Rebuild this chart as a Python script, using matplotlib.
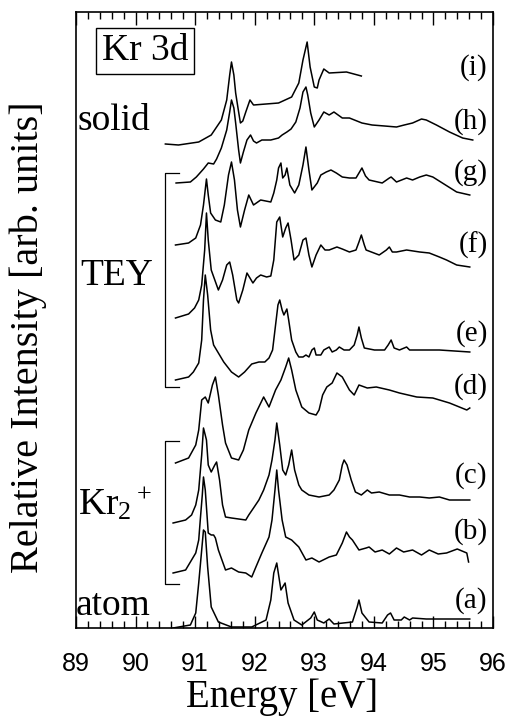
import matplotlib
matplotlib.use("Agg")
import matplotlib.pyplot as plt
from matplotlib.ticker import MultipleLocator

plt.rcParams['font.family'] = ['Liberation Serif', 'DejaVu Serif']
plt.rcParams['mathtext.fontset'] = 'custom'
plt.rcParams['mathtext.rm'] = 'Liberation Serif'
plt.rcParams['mathtext.it'] = 'Liberation Serif:italic'

# ---- spectra (energy in eV, stacked intensity in arb. units) ----
energy_a = [90.63, 90.92, 91.01, 91.06, 91.11, 91.14, 91.17, 91.21, 91.27, 91.39, 91.61, 91.95,
            92.19, 92.27, 92.32, 92.37, 92.44, 92.51, 92.56, 92.66, 92.79, 92.94, 93.00, 93.05,
            93.16, 93.25, 93.33, 93.64, 93.72, 93.75, 93.80, 93.92, 94.14, 94.23, 94.28, 94.34,
            94.46, 94.51, 94.60, 94.65, 94.88, 95.27, 95.61]
inten_a = [0, 3, 15, 45, 78, 98, 96, 61, 21, 6, 1, 1,
           8, 28, 55, 65, 38, 45, 25, 8, 3, 10, 16, 8,
           5, 9, 4, 6, 21, 28, 15, 6, 5, 13, 15, 8,
           8, 11, 8, 10, 9, 9, 9]

energy_b = [90.63, 90.84, 90.92, 91.01, 91.06, 91.09, 91.12, 91.14, 91.17, 91.22, 91.27, 91.31,
            91.34, 91.39, 91.51, 91.61, 91.73, 91.85, 91.95, 92.02, 92.12, 92.24, 92.29, 92.34,
            92.37, 92.40, 92.46, 92.52, 92.62, 92.74, 92.86, 92.96, 93.08, 93.25, 93.37, 93.47,
            93.54, 93.59, 93.64, 93.75, 93.87, 93.92, 94.02, 94.14, 94.26, 94.38, 94.50, 94.65,
            94.80, 94.93, 95.08, 95.22, 95.40, 95.56, 95.59]
inten_b = [55, 58, 66, 75, 88, 111, 133, 151, 138, 95, 93, 93,
           90, 78, 58, 60, 56, 55, 51, 61, 75, 91, 108, 138,
           158, 138, 108, 91, 88, 81, 68, 70, 66, 71, 73, 85,
           96, 91, 88, 78, 80, 81, 76, 78, 74, 80, 76, 78,
           73, 78, 74, 75, 79, 75, 66]

energy_c = [90.63, 90.84, 90.94, 91.01, 91.06, 91.11, 91.14, 91.19, 91.22, 91.27, 91.33, 91.36,
            91.41, 91.46, 91.51, 91.61, 91.73, 91.85, 91.90, 91.98, 92.07, 92.15, 92.24, 92.29,
            92.34, 92.37, 92.42, 92.47, 92.52, 92.57, 92.62, 92.67, 92.74, 92.79, 92.91, 93.08,
            93.25, 93.33, 93.42, 93.47, 93.50, 93.55, 93.62, 93.69, 93.79, 93.89, 93.96, 94.09,
            94.26, 94.43, 94.60, 94.77, 94.93, 95.10, 95.27, 95.44, 95.61]
inten_c = [105, 108, 113, 123, 138, 173, 200, 188, 163, 156, 163, 166,
           148, 123, 111, 110, 109, 108, 113, 120, 128, 138, 153, 168,
           188, 205, 183, 158, 153, 163, 178, 158, 143, 138, 133, 131,
           133, 138, 148, 163, 168, 163, 148, 136, 133, 138, 135, 136,
           133, 133, 131, 131, 130, 131, 128, 128, 128]

energy_d = [90.67, 90.89, 91.01, 91.06, 91.11, 91.17, 91.22, 91.29, 91.34, 91.39, 91.46, 91.51,
            91.61, 91.73, 91.81, 91.90, 92.02, 92.15, 92.24, 92.35, 92.44, 92.52, 92.57, 92.62,
            92.69, 92.79, 92.91, 93.03, 93.08, 93.14, 93.21, 93.30, 93.38, 93.47, 93.59, 93.67,
            93.75, 93.89, 94.04, 94.26, 94.43, 94.72, 94.99, 95.27, 95.56, 95.61]
inten_d = [165, 170, 183, 198, 228, 231, 225, 243, 251, 233, 203, 185,
           170, 168, 178, 198, 215, 231, 221, 238, 248, 261, 270, 258,
           238, 221, 215, 213, 218, 233, 241, 245, 255, 251, 238, 233,
           243, 240, 241, 238, 235, 231, 230, 225, 218, 220]

energy_e = [90.67, 90.89, 90.97, 91.06, 91.11, 91.14, 91.17, 91.21, 91.26, 91.31, 91.39, 91.48,
            91.61, 91.73, 91.83, 91.95, 92.07, 92.17, 92.24, 92.30, 92.35, 92.39, 92.42, 92.46,
            92.49, 92.54, 92.57, 92.62, 92.69, 92.74, 92.81, 92.86, 92.91, 92.96, 93.00, 93.03,
            93.11, 93.16, 93.25, 93.30, 93.37, 93.42, 93.50, 93.59, 93.67, 93.72, 93.75, 93.79,
            93.84, 94.01, 94.18, 94.24, 94.29, 94.34, 94.43, 94.51, 94.55, 94.60, 94.77, 95.10,
            95.61]
inten_e = [248, 251, 256, 265, 288, 328, 353, 333, 298, 283, 275, 266,
           256, 251, 256, 264, 266, 266, 270, 278, 303, 323, 328, 318,
           313, 319, 308, 288, 276, 271, 271, 273, 271, 278, 280, 273,
           273, 278, 281, 276, 278, 281, 278, 278, 283, 293, 301, 290,
           280, 278, 278, 283, 288, 280, 278, 280, 281, 278, 278, 278,
           276]

energy_f = [90.67, 90.89, 90.99, 91.06, 91.11, 91.16, 91.19, 91.22, 91.27, 91.33, 91.39, 91.46,
            91.53, 91.58, 91.63, 91.70, 91.73, 91.80, 91.87, 91.92, 91.97, 92.03, 92.10, 92.20,
            92.27, 92.32, 92.37, 92.42, 92.47, 92.52, 92.56, 92.61, 92.66, 92.74, 92.81, 92.86,
            92.91, 92.96, 93.03, 93.11, 93.18, 93.25, 93.38, 93.47, 93.59, 93.70, 93.75, 93.79,
            93.84, 93.87, 94.09, 94.21, 94.26, 94.31, 94.38, 94.55, 94.77, 94.93, 95.10, 95.22,
            95.39, 95.61]
inten_f = [310, 314, 320, 328, 343, 378, 415, 388, 358, 348, 338, 348,
           363, 366, 353, 328, 325, 338, 355, 350, 345, 350, 353, 351,
           352, 368, 406, 411, 391, 400, 405, 388, 368, 373, 388, 390,
           373, 361, 373, 383, 378, 378, 381, 379, 376, 378, 386, 393,
           383, 378, 373, 378, 381, 376, 376, 378, 376, 375, 371, 368,
           363, 361]

energy_g = [90.67, 90.89, 91.01, 91.09, 91.14, 91.19, 91.22, 91.26, 91.34, 91.43, 91.49, 91.56,
            91.61, 91.66, 91.71, 91.76, 91.83, 91.90, 91.98, 92.10, 92.27, 92.32, 92.37, 92.40,
            92.44, 92.47, 92.51, 92.54, 92.59, 92.67, 92.74, 92.81, 92.86, 92.91, 92.96, 93.05,
            93.11, 93.20, 93.28, 93.37, 93.47, 93.59, 93.70, 93.75, 93.80, 93.86, 93.92, 94.14,
            94.26, 94.29, 94.38, 94.55, 94.65, 94.77, 94.88, 94.99, 95.15, 95.39, 95.61]
inten_g = [383, 385, 390, 403, 423, 449, 433, 415, 408, 406, 423, 453,
           466, 448, 418, 401, 418, 433, 423, 428, 426, 435, 448, 460,
           465, 450, 453, 460, 443, 435, 443, 463, 481, 458, 438, 445,
           453, 456, 458, 455, 451, 450, 450, 455, 460, 452, 448, 445,
           450, 451, 446, 450, 448, 451, 453, 451, 445, 436, 433]

energy_h = [90.68, 90.92, 91.02, 91.14, 91.22, 91.31, 91.36, 91.44, 91.53, 91.58, 91.61, 91.65,
            91.68, 91.73, 91.76, 91.81, 91.87, 91.93, 91.98, 92.03, 92.12, 92.27, 92.40, 92.46,
            92.54, 92.61, 92.69, 92.76, 92.81, 92.86, 92.89, 92.94, 93.00, 93.08, 93.16, 93.25,
            93.33, 93.47, 93.59, 93.80, 93.97, 94.18, 94.38, 94.51, 94.65, 94.80, 94.88, 95.05,
            95.27, 95.49, 95.66]
inten_h = [445, 446, 451, 459, 465, 464, 469, 480, 498, 516, 528, 520,
           505, 478, 465, 476, 488, 493, 487, 485, 488, 488, 490, 493,
           496, 499, 506, 520, 536, 541, 533, 515, 501, 508, 516, 513,
           516, 510, 510, 505, 503, 502, 501, 503, 505, 509, 508, 503,
           496, 490, 488]

energy_i = [90.50, 90.72, 91.06, 91.27, 91.44, 91.53, 91.58, 91.61, 91.65, 91.68, 91.73, 91.76,
            91.80, 91.85, 91.92, 91.98, 92.40, 92.62, 92.74, 92.81, 92.88, 92.93, 93.00, 93.05,
            93.08, 93.16, 93.25, 93.54, 93.79]
inten_i = [484, 483, 486, 493, 508, 528, 553, 566, 553, 535, 516, 505,
           507, 516, 528, 523, 525, 531, 545, 568, 586, 561, 541, 540,
           548, 559, 555, 556, 552]

curve_labels = ['(a)', '(b)', '(c)', '(d)', '(e)', '(f)', '(g)', '(h)', '(i)']
energies = [energy_a, energy_b, energy_c, energy_d, energy_e, energy_f, energy_g, energy_h, energy_i]
intensities = [inten_a, inten_b, inten_c, inten_d, inten_e, inten_f, inten_g, inten_h, inten_i]
xtick_values = [89, 90, 91, 92, 93, 94, 95, 96]

# ---- figure ----
fig = plt.figure(figsize=(5.08, 7.19), dpi=100)
ax = fig.add_axes([76 / 508, 1 - 628 / 719, 417 / 508, 616 / 719])
ax.set_xlim(89, 96)
ax.set_ylim(0, 616)

for e, y in zip(energies, intensities):
    ax.plot(e, y, color='black', lw=1.1, solid_joinstyle='round')

# curve letters at the right
label_y = [27, 96, 152, 241, 294, 383, 455, 506, 560]
for lab, yy in zip(curve_labels, label_y):
    ax.text(95.91, yy, lab, ha='right', va='center', fontsize=21)

# group names at the left
ax.text(89.03, 498, 'solid', ha='left', va='baseline', fontsize=27)
ax.text(89.07, 343, 'TEY', ha='left', va='baseline', fontsize=27)
ax.text(89.03, 113, 'Kr$_2$$^+$', ha='left', va='baseline', fontsize=27)
ax.text(89.0, 13, 'atom', ha='left', va='baseline', fontsize=27)
ax.text(90.16, 577, 'Kr 3d', ha='center', va='center', fontsize=27,
        bbox=dict(boxstyle='square,pad=0.15', facecolor='white', edgecolor='black', lw=1.0))

# brackets
for y0, y1 in [(241, 455), (44, 187)]:
    ax.plot([90.73, 90.50, 90.50, 90.73], [y1, y1, y0, y0], color='black', lw=0.9)

# axes styling
ax.xaxis.set_major_locator(MultipleLocator(1))
ax.xaxis.set_minor_locator(MultipleLocator(0.2))
ax.set_xticks(xtick_values)
ax.set_xticklabels([str(v) for v in xtick_values], family='Liberation Sans', fontsize=18)
ax.tick_params(axis='x', which='both', direction='in', top=True, bottom=True, width=1.0)
ax.tick_params(axis='x', which='major', length=9, pad=17)
ax.tick_params(axis='x', which='minor', length=5)
ax.set_yticks([])
for s in ax.spines.values():
    s.set_linewidth(1.2)

fig.text(282 / 508, 1 - 707 / 719, 'Energy [eV]', ha='center', va='baseline', fontsize=28)
fig.text(28 / 508, 1 - 337 / 719, 'Relative Intensity [arb. units]', ha='center', va='center',
         rotation=90, fontsize=29)

fig.savefig('out.png', dpi=100, facecolor='white')
